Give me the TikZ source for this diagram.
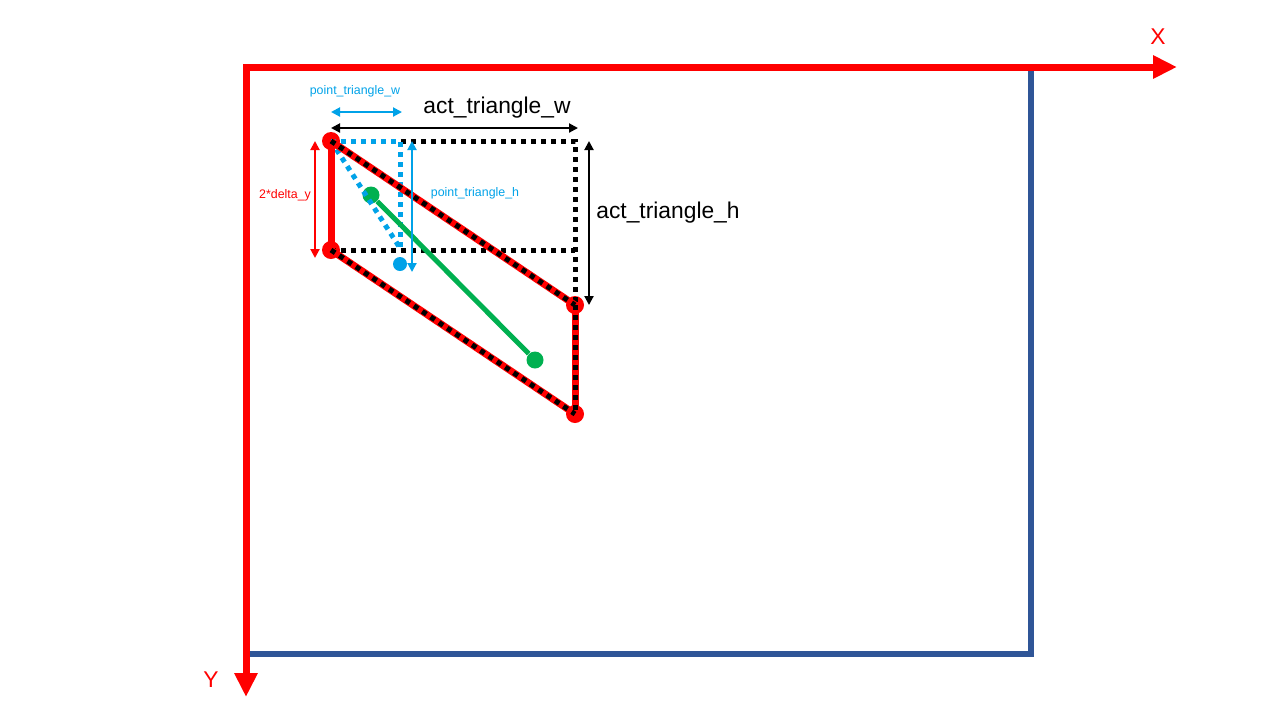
\documentclass[tikz,border=0pt]{standalone}
\usepackage{fontspec}
\setmainfont{Liberation Sans}
\usetikzlibrary{arrows.meta}
\definecolor{axisred}{RGB}{255,0,0}
\definecolor{frameblue}{RGB}{47,85,151}
\definecolor{ptblue}{RGB}{0,162,232}
\definecolor{segreen}{RGB}{0,176,80}
\tikzset{
  reddot/.style={circle, fill=axisred, inner sep=0pt, minimum size=9pt},
  bluedot/.style={circle, fill=ptblue, inner sep=0pt, minimum size=7pt},
  greendot/.style={circle, fill=segreen, inner sep=0pt, minimum size=8.5pt},
  blackdots/.style={black, line width=2.5pt, dash pattern=on 2.5pt off 2.5pt},
  bluedots/.style={ptblue, line width=2.5pt, dash pattern=on 2.5pt off 2.5pt},
  redline/.style={axisred, line width=3.5pt},
  dimarrow/.style={line width=1pt, {Triangle[length=4.5pt,width=4.5pt]}-{Triangle[length=4.5pt,width=4.5pt]}},
  biglabel/.style={font=\fontsize{11.4}{13}\selectfont},
  smalllabel/.style={font=\fontsize{6.2}{7.5}\selectfont}
}
\begin{document}
\begin{tikzpicture}[x=0.5pt,y=-0.5pt]
\useasboundingbox (0,0) rectangle (1280,720);
% axes and frame
\coordinate (origin) at (246,67);
\coordinate (xend) at (1177,67);
\coordinate (yend) at (246,697);
\coordinate (frametr) at (1031,67);
\coordinate (framebr) at (1031,654);
\coordinate (framebl) at (246,654);
\draw[frameblue, line width=3pt] (frametr) -- (framebr) -- (framebl);
\draw[axisred, line width=3.5pt, miter limit=10,
  {Triangle[length=12pt,width=11pt]}-{Triangle[length=12pt,width=11pt]}] (yend) -- (origin) -- (xend);
\node[axisred, biglabel] (xlabel) at (1158,37) {X};
\node[axisred, biglabel] (ylabel) at (211,680) {Y};
% triangle corners
\node[reddot] (topl) at (331,141) {};
\node[reddot] (botl) at (331,250) {};
\node[reddot] (topr) at (575,305) {};
\node[reddot] (botr) at (575,414) {};
\node[bluedot] (ptdot) at (400,264) {};
\node[greendot] (gstart) at (371,195) {};
\node[greendot] (gend) at (535,360) {};
\coordinate (boxtr) at (575,141);
\coordinate (boxmr) at (575,250);
\coordinate (pttop) at (400,141);
\coordinate (ptcorner) at (400,248);
% bounding boxes
\draw[blackdots] (topl.center) -- (boxtr) -- (topr.center);
\draw[blackdots] (botl.center) -- (boxmr);
\draw[bluedots] (topl.center) -- (pttop) -- (ptcorner);
\draw[bluedots] (topl.center) -- (ptcorner);
% parallelogram edges
\draw[redline] (topl.center) -- (botl.center);
\draw[redline] (topl.center) -- (topr.center);
\draw[redline] (botl.center) -- (botr.center);
\draw[redline] (topr.center) -- (botr.center);
\draw[blackdots] (topl.center) -- (topr.center);
\draw[blackdots] (botl.center) -- (botr.center);
\draw[blackdots] (topr.center) -- (botr.center);
\draw[segreen, line width=2.5pt] (gstart) -- (gend);
% dimensions
\coordinate (ptw1) at (331,112);
\coordinate (ptw2) at (402,112);
\coordinate (actw1) at (331,128);
\coordinate (actw2) at (578,128);
\coordinate (dy1) at (315,141);
\coordinate (dy2) at (315,258);
\coordinate (pth1) at (412,141);
\coordinate (pth2) at (412,272);
\coordinate (acth1) at (589,141);
\coordinate (acth2) at (589,305);
\draw[dimarrow, ptblue] (ptw1) -- (ptw2);
\draw[dimarrow, black] (actw1) -- (actw2);
\draw[dimarrow, axisred] (dy1) -- (dy2);
\draw[dimarrow, ptblue] (pth1) -- (pth2);
\draw[dimarrow, black] (acth1) -- (acth2);
\node[ptblue, smalllabel] (ptwlabel) at (355,91) {point\_triangle\_w};
\node[black, biglabel] (actwlabel) at (497,108) {act\_triangle\_w};
\node[axisred, smalllabel] (dylabel) at (285,195) {2*delta\_y};
\node[ptblue, smalllabel] (pthlabel) at (475,193) {point\_triangle\_h};
\node[black, biglabel] (acthlabel) at (668,213) {act\_triangle\_h};
\end{tikzpicture}
\end{document}
